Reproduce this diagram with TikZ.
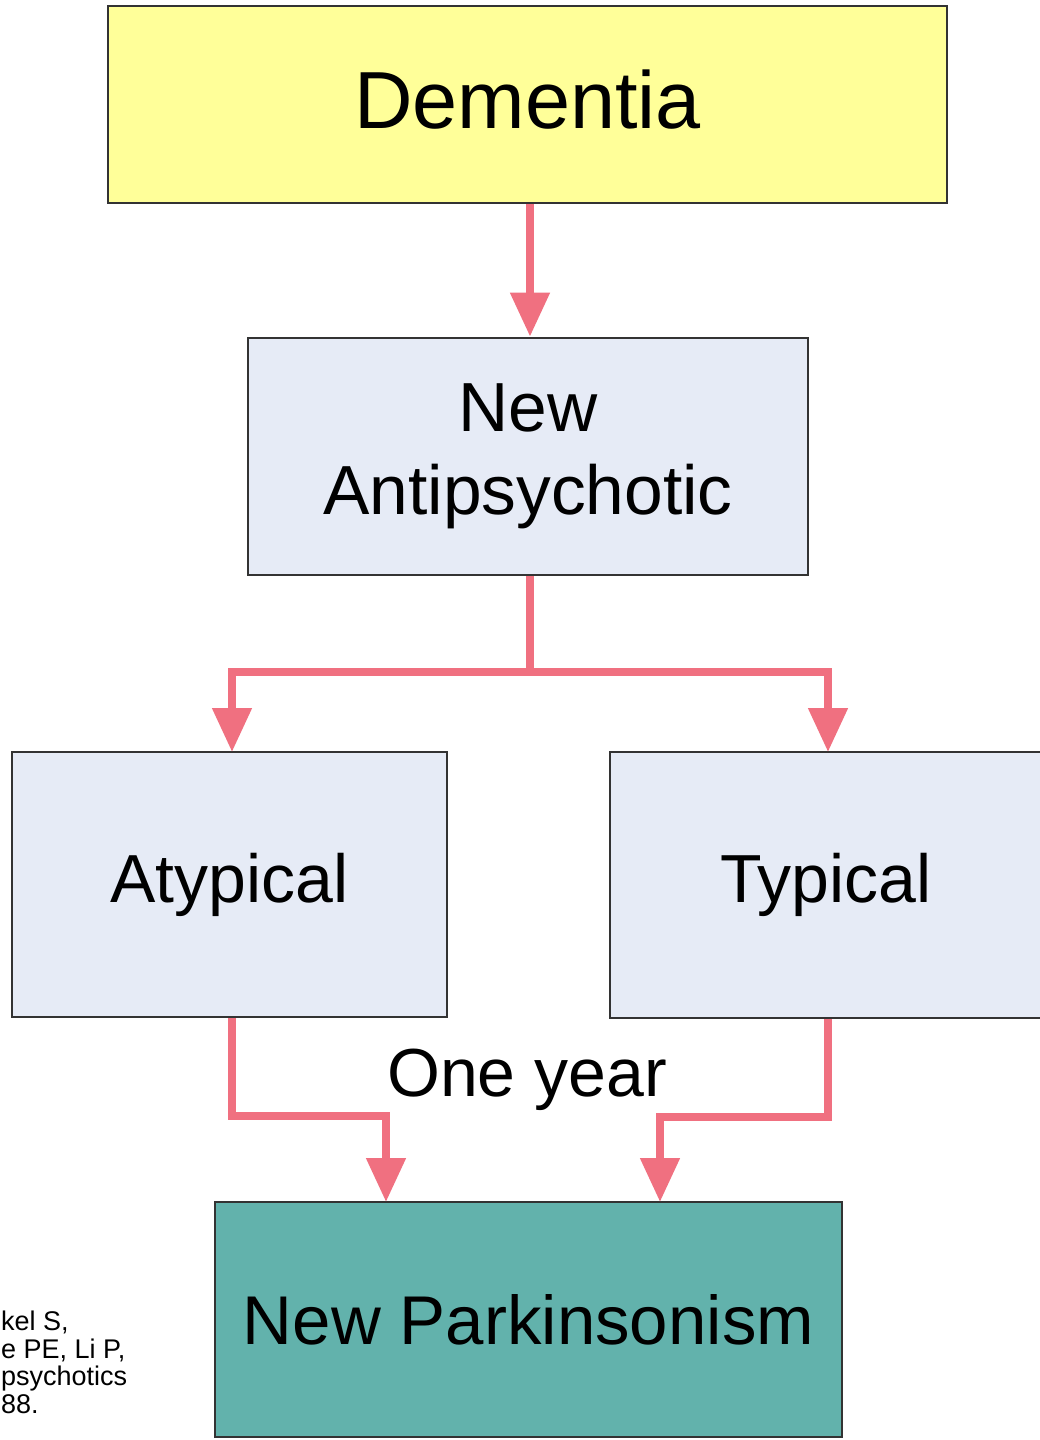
\documentclass[tikz,border=0pt]{standalone}
\usepackage{fontspec}
\setmainfont{Liberation Sans}
\usetikzlibrary{arrows.meta}

\definecolor{dementiafill}{RGB}{255,255,153}
\definecolor{drugfill}{RGB}{230,235,246}
\definecolor{parkfill}{RGB}{98,178,172}
\definecolor{flowpink}{RGB}{240,112,128}

\tikzset{
  box/.style={draw=black!80, line width=2.8pt, inner sep=0pt, align=center},
  flow/.style={draw=flowpink, line width=8pt, -{Triangle[width=38pt,length=44pt]}},
  bigtext/.style={font=\fontsize{68}{83}\selectfont}
}

\begin{document}
\begin{tikzpicture}[x=1pt,y=-1pt]
	\useasboundingbox (0,0) rectangle (1039,1440);
	\fill[white] (0,0) rectangle (1039,1440);

	\node[box, fill=dementiafill, minimum width=839pt, minimum height=197pt,
	  text depth=10pt, font=\fontsize{81}{90}\selectfont] (dem) at (527.5,104.5) {Dementia};
	\node[box, fill=drugfill, minimum width=560pt, minimum height=237pt,
	  font=\fontsize{69.5}{83}\selectfont] (anti) at (528,456.5) {New\\Antipsychotic};
	\node[box, fill=drugfill, minimum width=435pt, minimum height=265pt, bigtext]
	  (aty) at (229.5,884.5) {Atypical};
	\node[box, fill=drugfill, minimum width=460pt, minimum height=266pt, bigtext,
	  text width=430pt] (typ) at (840,885) {\hspace*{-28pt}Typical};
	\node[bigtext, inner sep=0pt] (year) at (527,1080) {One year};
	\node[box, fill=parkfill, minimum width=627pt, minimum height=235pt,
	  font=\fontsize{69}{80}\selectfont] (park) at (528.5,1319.5) {New Parkinsonism};
	\node[anchor=north west, align=left, inner sep=0pt,
	  font=\fontsize{27}{27.5}\selectfont] (cite) at (1,1311) {kel S,\\e PE, Li P,\\psychotics\\88.};

	\coordinate (split) at (530,672);
	\coordinate (atyin) at (232,752);
	\coordinate (typin) at (828,752);
	\coordinate (parkl) at (386,1202);
	\coordinate (parkr) at (660,1202);

	\draw[flow] (dem.south -| split) -- (anti.north -| split);
	\draw[flow] (anti.south -| split) -- (split) -| (atyin);
	\draw[flow] (anti.south -| split) -- (split) -| (typin);
	\draw[flow] (aty.south -| atyin) |- ++(0,98) -| (parkl);
	\draw[flow] (typ.south -| typin) |- ++(0,98) -| (parkr);
\end{tikzpicture}
\end{document}
